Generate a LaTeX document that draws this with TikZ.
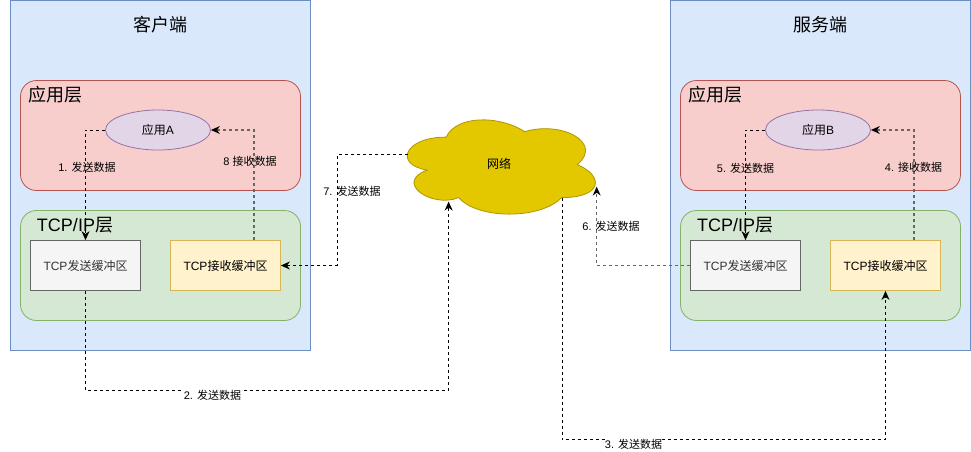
\documentclass[tikz,border=0pt]{standalone}
\usepackage{xcolor}
\usepackage{fontspec}
\setmainfont{Liberation Sans}
\newfontfamily\cjk{Noto Sans CJK SC}
\usetikzlibrary{arrows.meta,positioning,calc,shapes.geometric}
\definecolor{PanelFill}{HTML}{DAE8FC}
\definecolor{PanelLine}{HTML}{6C8EBF}
\definecolor{AppFill}{HTML}{F8CECC}
\definecolor{AppLine}{HTML}{B85450}
\definecolor{TcpFill}{HTML}{D5E8D4}
\definecolor{TcpLine}{HTML}{82B366}
\definecolor{ProcFill}{HTML}{E1D5E7}
\definecolor{ProcLine}{HTML}{9673A6}
\definecolor{SendFill}{HTML}{F5F5F5}
\definecolor{SendLine}{HTML}{666666}
\definecolor{SendText}{HTML}{333333}
\definecolor{RecvFill}{HTML}{FFF2CC}
\definecolor{RecvLine}{HTML}{D6B656}
\definecolor{NetFill}{HTML}{E3C800}
\definecolor{NetLine}{HTML}{B09500}

\begin{document}
\begin{tikzpicture}[
  x=1pt,y=-1pt,line width=0.8pt,
  panel/.style={draw=PanelLine,fill=PanelFill,minimum width=300pt,minimum height=350pt,inner sep=0pt},
  applayer/.style={draw=AppLine,fill=AppFill,rounded corners=16pt,minimum width=280pt,minimum height=110pt,inner sep=0pt},
  tcplayer/.style={draw=TcpLine,fill=TcpFill,rounded corners=16pt,minimum width=280pt,minimum height=110pt,inner sep=0pt},
  proc/.style={draw=ProcLine,fill=ProcFill,ellipse,minimum width=105pt,minimum height=40pt,inner sep=0pt,font=\fontsize{12}{14}\selectfont},
  sendbuf/.style={draw=SendLine,fill=SendFill,text=SendText,minimum width=110pt,minimum height=50pt,inner sep=0pt,font=\fontsize{12}{14}\selectfont},
  recvbuf/.style={draw=RecvLine,fill=RecvFill,minimum width=110pt,minimum height=50pt,inner sep=0pt,font=\fontsize{12}{14}\selectfont},
  title/.style={inner sep=0pt,font=\fontsize{18}{20}\selectfont},
  layername/.style={inner sep=0pt,font=\fontsize{18}{20}\selectfont},
  lbl/.style={inner sep=0pt,font=\fontsize{11}{13}\selectfont},
  a/.style={-{Stealth[length=9pt,width=8pt]},line width=1pt,dash pattern=on 3pt off 3pt,color=black},
  b/.style={a,color=black!60,line width=2pt,-{Stealth[length=9pt,width=8pt,color=black,line width=0pt]}}
]
  \useasboundingbox (0,0) rectangle (971,451);

  % client
  \node[panel] (client) at (160.5,175) {};
  \node[title] (clientname) at (160,25) {\cjk 客户端};
  \node[applayer] (clientapp) at (160.5,135.5) {};
  \node[tcplayer] (clienttcp) at (160.5,265.5) {};
  \node[layername] (clientappname) at (55,95) {\cjk 应用层};
  \node[layername] (clienttcpname) at (75,225) {TCP/IP{\cjk 层}};
  \node[proc] (procA) at (158,130) {{\cjk 应用}A};
  \node[sendbuf] (clientsend) at (85.5,265.5) {TCP{\cjk 发送缓冲区}};
  \node[recvbuf] (clientrecv) at (225.5,265.5) {TCP{\cjk 接收缓冲区}};

  % server
  \node[panel] (server) at (820.5,175) {};
  \node[title] (servername) at (820,25) {\cjk 服务端};
  \node[applayer] (serverapp) at (820.5,135.5) {};
  \node[tcplayer] (servertcp) at (820.5,265.5) {};
  \node[layername] (serverappname) at (715,95) {\cjk 应用层};
  \node[layername] (servertcpname) at (735,225) {TCP/IP{\cjk 层}};
  \node[proc] (procB) at (818,130) {{\cjk 应用}B};
  \node[sendbuf] (serversend) at (745.5,265.5) {TCP{\cjk 发送缓冲区}};
  \node[recvbuf] (serverrecv) at (885.5,265.5) {TCP{\cjk 接收缓冲区}};

  % network
  \node[minimum width=210pt,minimum height=110pt,inner sep=0pt,font=\fontsize{12}{14}\selectfont] (net) at (499,165) {};
  \begin{scope}[shift={(net.north west)},x=2.1pt,y=-1.1pt]
    \draw[NetLine,fill=NetFill] (25,25) .. controls (5,25) and (0,50) .. (16,55)
      .. controls (0,66) and (18,90) .. (31,80)
      .. controls (40,100) and (70,100) .. (80,80)
      .. controls (100,80) and (100,60) .. (87.5,50)
      .. controls (100,30) and (80,10) .. (62.5,20)
      .. controls (50,5) and (30,5) .. (25,25) -- cycle;
    \coordinate (netL) at (6.7,41);
    \coordinate (netB) at (26.2,83.6);
    \coordinate (netR) at (96.7,70);
    \coordinate (netS) at (80.3,80);
  \end{scope}
  \node[inner sep=0pt,font=\fontsize{12}{14}\selectfont] (netname) at (499,164) {\cjk 网络};

  % edges
  \draw[a] (procA.west) -| (clientsend.north);
  \draw[b] ($(clientrecv.north)+(28,0)$) |- (procA.east);
  \draw[a] (clientsend.south) |- ++(0,99.5) -| (netB);
  \draw[a] (netS) |- ++(0,242) -| (serverrecv.south);
  \draw[b] ($(serverrecv.north)+(28,0)$) |- (procB.east);
  \draw[a] (procB.west) -| (serversend.north);
  \draw[b,line width=1.5pt] (serversend.west) -| (netR);
  \draw[a] (netL) -| ($(clientrecv.east)+(56.5,0)$) -- (clientrecv.east);

  % labels
  \node[lbl] (send1) at (87,167) {1. {\cjk 发送数据}};
  \node[lbl,fill=white] (send2) at (212.5,395) {2. {\cjk 发送数据}};
  \node[lbl,fill=white] (send3) at (633.5,444) {3. {\cjk 发送数据}};
  \node[lbl] (recv4) at (913.5,167) {4. {\cjk 接收数据}};
  \node[lbl] (send5) at (745.5,168) {5. {\cjk 发送数据}};
  \node[lbl] (send6) at (611,226) {6. {\cjk 发送数据}};
  \node[lbl] (send7) at (352,191) {7. {\cjk 发送数据}};
  \node[lbl] (recv8) at (250,161) {8 {\cjk 接收数据}};
\end{tikzpicture}
\end{document}
